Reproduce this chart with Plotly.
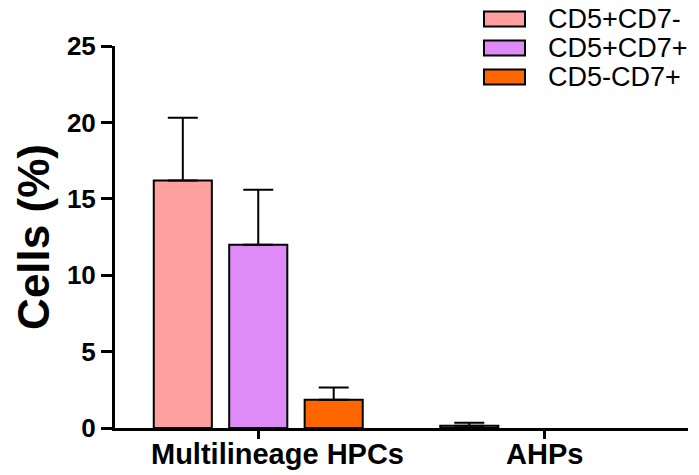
import plotly.graph_objects as go

categories = ["Multilineage HPCs", "AHPs"]
series_names = ["CD5+CD7-", "CD5+CD7+", "CD5-CD7+"]
means_cd5p_cd7n = [16.2, 0.15]
means_cd5p_cd7p = [12.0, 0.0]
means_cd5n_cd7p = [1.85, 0.0]
err_cd5p_cd7n = [4.1, 0.2]
err_cd5p_cd7p = [3.6, 0.0]
err_cd5n_cd7p = [0.8, 0.0]
colors = ["#FFA0A0", "#DE8BF7", "#FF6600"]
y_ticks = [0, 5, 10, 15, 20, 25]

means = [means_cd5p_cd7n, means_cd5p_cd7p, means_cd5n_cd7p]
errs = [err_cd5p_cd7n, err_cd5p_cd7p, err_cd5n_cd7p]

W, H = 699, 475
L, R, T, B = 115, 11, 46, 47
FONT = "Liberation Sans, Arial"

fig = go.Figure()
for name, m, e, c in zip(series_names, means, errs, colors):
    # zero-height bars with zero error draw nothing in the original
    keep = [i for i in range(len(m)) if m[i] > 0 or e[i] > 0]
    fig.add_trace(go.Bar(
        x=[categories[i] for i in keep], y=[m[i] for i in keep], name=name,
        marker=dict(color=c, line=dict(color="black", width=2)),
        error_y=dict(type="data", array=[e[i] for i in keep],
                     arrayminus=[0] * len(keep), symmetric=False,
                     color="black", thickness=2, width=15),
        showlegend=False,
    ))

# manual legend (large swatches like the original)
pw = W - L - R
ph = H - T - B
def px2x(px):
    return (px - L) / pw
def px2y(py):
    return (H - B - py) / ph

row_y = [19, 48, 77]
for name, c, ry in zip(series_names, colors, row_y):
    fig.add_shape(type="rect", xref="paper", yref="paper",
                  x0=px2x(484), x1=px2x(525), y0=px2y(ry + 7.5), y1=px2y(ry - 7.5),
                  fillcolor=c, line=dict(color="black", width=2))
    fig.add_annotation(xref="paper", yref="paper", x=px2x(546), y=px2y(ry),
                       text=name, showarrow=False, xanchor="left", yanchor="middle",
                       font=dict(family=FONT, size=27, color="black"))

# category labels (the first one sits slightly right of its tick in the original)
label_shift = [19, 0]
for cat, sh in zip(categories, label_shift):
    fig.add_annotation(xref="x", yref="paper", x=cat, y=px2y(436), yanchor="top",
                       xshift=sh, text="<b>" + cat + "</b>", showarrow=False,
                       font=dict(family=FONT, size=29, color="black"))

fig.update_layout(
    width=W, height=H,
    margin=dict(l=L, r=R, t=T, b=B, autoexpand=False),
    paper_bgcolor="white", plot_bgcolor="white",
    barmode="group", bargap=0.21, bargroupgap=0.23,
    font=dict(family=FONT, color="black"),
)
fig.update_xaxes(
    categoryorder="array", categoryarray=categories,
    range=[-0.5, 1.5], showline=True, linecolor="black", linewidth=3,
    ticks="outside", ticklen=8, tickwidth=3, tickcolor="black",
    showticklabels=False,
    showgrid=False, zeroline=False,
)
fig.update_yaxes(
    range=[0, 25], tickvals=y_ticks, showline=True, linecolor="black", linewidth=3,
    ticks="outside", ticklen=11, tickwidth=3, tickcolor="black",
    tickfont=dict(size=26, family=FONT, weight="bold"),
    title=dict(text="Cells (%)", font=dict(size=44, family=FONT, weight="bold"), standoff=4),
    showgrid=False, zeroline=False,
)

fig.write_html("out.html", config={"displayModeBar": False},
               post_script="document.body.style.margin='0';")
